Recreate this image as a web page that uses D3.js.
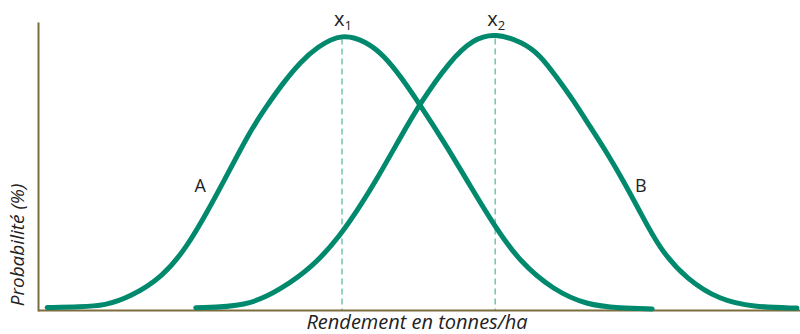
<!DOCTYPE html>
<html>
<head>
<meta charset="utf-8">
<script src="https://cdn.jsdelivr.net/npm/d3@7"></script>
<style>
  body { margin: 0; background: #fff; }
  text { font-family: "Open Sans", sans-serif; fill: #222; }
</style>
</head>
<body>
<div id="chart"></div>
<script>
const width = 800;
const height = 334;

// Curve A (yield in arbitrary t/ha units, probability in %)
const curveAX = [0.12, 0.55, 0.88, 1.21, 1.64, 1.96, 2.22, 2.43, 2.78, 3.0, 3.22, 3.44, 3.66,
  3.99, 4.32, 4.53, 4.75, 5.01, 5.34, 5.67, 6.0, 6.33, 6.76, 7.2, 7.64, 8.06];
const curveAY = [0.9, 1.1, 1.6, 4.7, 12.0, 23.0, 35.4, 46.0, 64.5, 73.6, 82.1, 89.4, 94.9,
  100, 96.7, 92.0, 84.7, 74.2, 60.2, 44.9, 29.9, 17.2, 7.3, 1.8, 0.7, 0.4];

// Curve B
const curveBX = [2.07, 2.74, 3.18, 3.61, 3.96, 4.23, 4.45, 4.75, 5.01, 5.41, 5.71, 6.0,
  6.36, 6.59, 6.81, 7.02, 7.24, 7.47, 7.68, 7.9, 8.16, 8.52, 8.95, 9.38, 9.96];
const curveBY = [0.8, 1.2, 7.3, 15.7, 26.6, 37.6, 47.4, 62.0, 74.5, 90.1, 97.8, 100,
  96.7, 92.0, 83.9, 75.9, 66.4, 56.6, 46.7, 35.5, 21.9, 10.9, 3.6, 1.1, 0.7];

// Means and labels
const means = [3.99, 6.0];
const meanLabels = ["1", "2"];
const curveNames = ["A", "B"];
const curveNamePos = [[2.13, 42.5], [7.91, 42.5]];

const xTitle = "Rendement en tonnes/ha";
const yTitle = "Probabilité (%)";

const green = "#00896c";
const axisColor = "#7d6c3e";

const svg = d3
  .select("#chart")
  .append("svg")
  .attr("width", width)
  .attr("height", height);

const xScale = d3.scaleLinear().domain([0, 10]).range([38, 800]);
const yScale = d3.scaleLinear().domain([0, 100]).range([310, 33]);

// Dashed mean lines
svg
  .selectAll(".mean-line")
  .data(means)
  .enter()
  .append("line")
  .attr("class", "mean-line")
  .attr("x1", (d) => xScale(d))
  .attr("x2", (d) => xScale(d))
  .attr("y1", yScale(98))
  .attr("y2", yScale(0))
  .attr("stroke", "#7cc6b4")
  .attr("stroke-width", 1.6)
  .attr("stroke-dasharray", "6,4");

// Axes (plain lines, no ticks)
svg
  .append("g")
  .attr("transform", `translate(0, ${yScale(0)})`)
  .call(d3.axisBottom(xScale).ticks(0).tickSizeOuter(0))
  .call((g) => g.select(".domain").attr("stroke", axisColor).attr("stroke-width", 2));

svg
  .append("g")
  .attr("transform", `translate(${xScale(0)}, 0)`)
  .call(
    d3.axisLeft(d3.scaleLinear().domain([0, 1]).range([yScale(0) + 1, 22]))
      .ticks(0)
      .tickSizeOuter(0)
  )
  .call((g) => g.select(".domain").attr("stroke", axisColor).attr("stroke-width", 2));

// Curves
const line = d3
  .line()
  .x((d) => xScale(d[0]))
  .y((d) => yScale(d[1]))
  .curve(d3.curveBasis);

const series = [
  d3.zip(curveAX, curveAY),
  d3.zip(curveBX, curveBY),
];

svg
  .selectAll(".curve")
  .data(series)
  .enter()
  .append("path")
  .attr("class", "curve")
  .attr("d", line)
  .attr("fill", "none")
  .attr("stroke", green)
  .attr("stroke-width", 5)
  .attr("stroke-linecap", "round");

// x1 / x2 labels
const meanText = svg
  .selectAll(".mean-label")
  .data(means)
  .enter()
  .append("text")
  .attr("class", "mean-label")
  .attr("x", (d) => xScale(d) + 1)
  .attr("y", 26)
  .attr("text-anchor", "middle")
  .style("font-size", "20px");

meanText.append("tspan").text("x");
meanText
  .append("tspan")
  .attr("dy", 4)
  .style("font-size", "13px")
  .text((d, i) => meanLabels[i]);

// A / B labels
svg
  .selectAll(".curve-name")
  .data(curveNames)
  .enter()
  .append("text")
  .attr("class", "curve-name")
  .attr("x", (d, i) => xScale(curveNamePos[i][0]))
  .attr("y", (d, i) => yScale(curveNamePos[i][1]))
  .attr("text-anchor", "middle")
  .style("font-size", "18px")
  .text((d) => d);

// Axis titles
svg
  .append("text")
  .attr("x", 417)
  .attr("y", 329)
  .attr("text-anchor", "middle")
  .style("font-size", "20px")
  .style("font-style", "italic")
  .text(xTitle);

svg
  .append("text")
  .attr("transform", "rotate(-90)")
  .attr("x", -245)
  .attr("y", 24)
  .attr("text-anchor", "middle")
  .style("font-size", "19px")
  .style("font-style", "italic")
  .text(yTitle);
</script>
</body>
</html>
